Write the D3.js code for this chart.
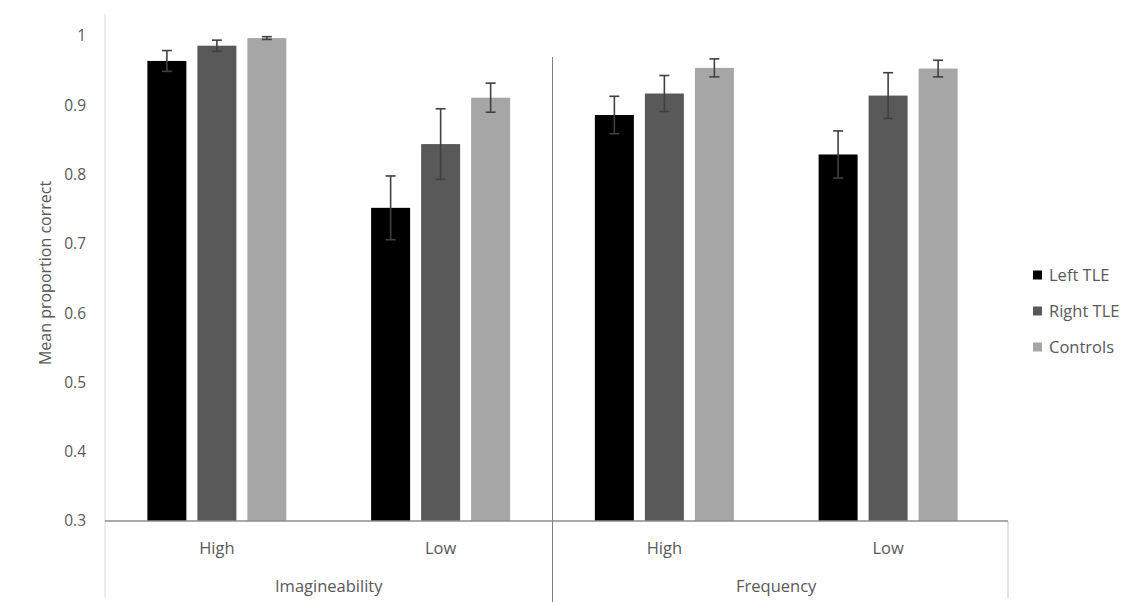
<!DOCTYPE html>
<html><head><meta charset="utf-8">
<script src="https://cdn.jsdelivr.net/npm/d3@7"></script>
<style>body{margin:0;background:#fff}svg{display:block}text{font-family:"Open Sans",Lato,sans-serif;fill:#595959}</style>
</head><body><svg id="c" width="1136" height="602"></svg>
<script>
const groups = ["Imagineability", "Frequency"];
const levels = ["High", "Low"];
const categories = ["Imagineability High", "Imagineability Low", "Frequency High", "Frequency Low"];
const series = ["Left TLE", "Right TLE", "Controls"];
const colors = ["#000000", "#595959", "#a6a6a6"];
const leftTLE = [0.964, 0.752, 0.886, 0.829];
const rightTLE = [0.986, 0.844, 0.917, 0.914];
const controls = [0.997, 0.911, 0.954, 0.953];
const errLeft = [0.015, 0.046, 0.027, 0.034];
const errRight = [0.008, 0.051, 0.026, 0.033];
const errControls = [0.002, 0.021, 0.013, 0.012];
const yTicks = [0.3, 0.4, 0.5, 0.6, 0.7, 0.8, 0.9, 1];
const yTickLabels = ["0.3", "0.4", "0.5", "0.6", "0.7", "0.8", "0.9", "1"];

const values = [leftTLE, rightTLE, controls];
const errs = [errLeft, errRight, errControls];

const svg = d3.select("#c");
const L = 105, R = 1008, B = 521, T = 36;
const y = d3.scaleLinear().domain([0.3, 1]).range([B, T]);
const x0 = d3.scaleBand().domain(categories).range([L, 1000]);
const x1 = d3.scaleBand().domain(series).range([-69.5, 69.5]).paddingInner(0.22);

// y axis line
svg.append("line").attr("x1", L).attr("x2", L).attr("y1", 14).attr("y2", 598)
  .attr("stroke", "#d9d9d9").attr("stroke-width", 1);
// y tick labels
svg.selectAll(".yt").data(yTicks).enter().append("text")
  .attr("x", 86).attr("y", d => y(d)).attr("dy", "0.35em")
  .attr("text-anchor", "end").attr("font-size", 15.5)
  .text((d, i) => yTickLabels[i]);
// y title
svg.append("text").attr("transform", "translate(51,273) rotate(-90)")
  .attr("text-anchor", "middle").attr("font-size", 16).text("Mean proportion correct");

// bars
const data = [];
categories.forEach((c, ci) => series.forEach((s, si) => data.push({c, s, si, v: values[si][ci], e: errs[si][ci]})));
const cx = d => x0(d.c) + x0.bandwidth() / 2 + x1(d.s);
svg.selectAll(".bar").data(data).enter().append("rect")
  .attr("x", d => cx(d)).attr("width", x1.bandwidth())
  .attr("y", d => y(d.v)).attr("height", d => B - y(d.v))
  .attr("fill", d => colors[d.si]);

// separator line between groups
const sepX = Math.round(x0(categories[2])) - 0.5;
svg.append("line").attr("x1", sepX).attr("x2", sepX).attr("y1", 57).attr("y2", 602)
  .attr("stroke", "#7f7f7f").attr("stroke-width", 1);
// right end line below axis
svg.append("line").attr("x1", R).attr("x2", R).attr("y1", B).attr("y2", 598)
  .attr("stroke", "#d9d9d9").attr("stroke-width", 1.5);
// baseline
svg.append("line").attr("x1", L).attr("x2", R).attr("y1", B).attr("y2", B)
  .attr("stroke", "#8c8c8c").attr("stroke-width", 1.5);

// error bars
const eb = svg.selectAll(".eb").data(data).enter().append("g")
  .attr("stroke", "#404040").attr("stroke-width", 1.6);
eb.append("line").attr("x1", d => cx(d) + x1.bandwidth() / 2).attr("x2", d => cx(d) + x1.bandwidth() / 2)
  .attr("y1", d => y(d.v + d.e)).attr("y2", d => y(d.v - d.e));
eb.append("line").attr("x1", d => cx(d) + x1.bandwidth() / 2 - 5).attr("x2", d => cx(d) + x1.bandwidth() / 2 + 5)
  .attr("y1", d => y(d.v + d.e)).attr("y2", d => y(d.v + d.e));
eb.append("line").attr("x1", d => cx(d) + x1.bandwidth() / 2 - 5).attr("x2", d => cx(d) + x1.bandwidth() / 2 + 5)
  .attr("y1", d => y(d.v - d.e)).attr("y2", d => y(d.v - d.e));

// category labels
svg.selectAll(".lv").data(categories).enter().append("text")
  .attr("x", d => x0(d) + x0.bandwidth() / 2).attr("y", 548).attr("dy", "0.35em")
  .attr("text-anchor", "middle").attr("font-size", 16.5)
  .text((d, i) => levels[i % 2]);
svg.selectAll(".gr").data(groups).enter().append("text")
  .attr("x", (d, i) => (x0(categories[i * 2]) + x0(categories[i * 2 + 1]) + x0.bandwidth()) / 2)
  .attr("y", 586).attr("dy", "0.35em")
  .attr("text-anchor", "middle").attr("font-size", 16.5).text(d => d);

// legend
const lg = svg.selectAll(".lg").data(series).enter().append("g")
  .attr("transform", (d, i) => `translate(1033,${275 + i * 36})`);
lg.append("rect").attr("x", 0).attr("y", -4.5).attr("width", 9).attr("height", 9)
  .attr("fill", (d, i) => colors[i]);
lg.append("text").attr("x", 16).attr("y", 0).attr("dy", "0.35em").attr("font-size", 16.5).text(d => d);
</script></body></html>
